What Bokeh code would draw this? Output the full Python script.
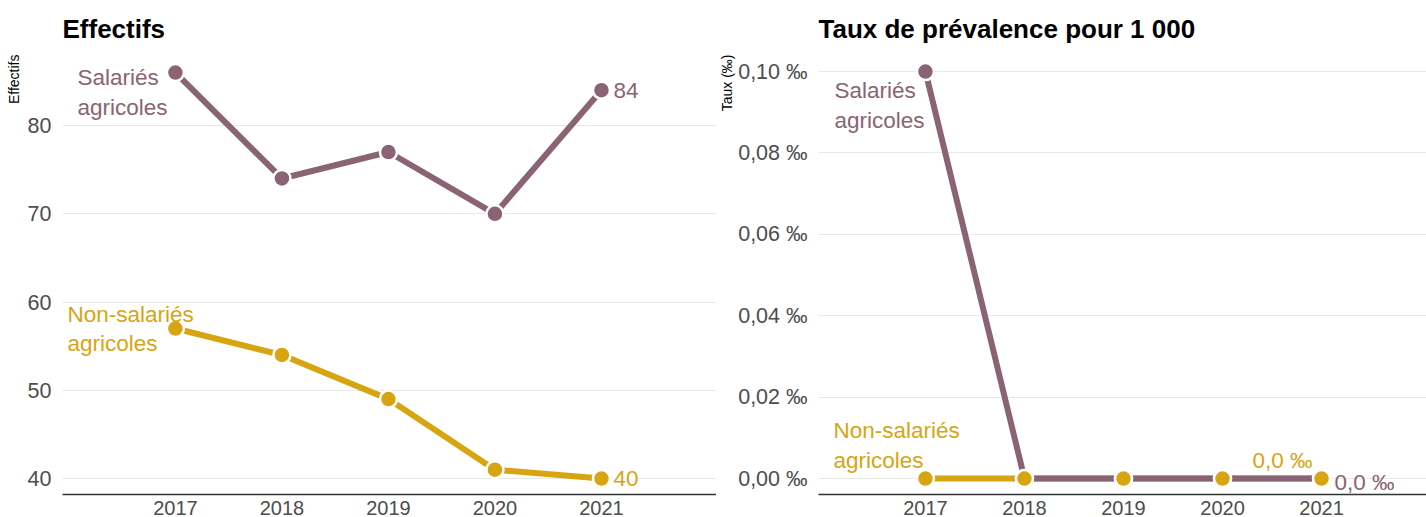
from bokeh.plotting import figure
from bokeh.layouts import row
from bokeh.models import Range1d, FixedTicker, Label, ColumnDataSource, Title
from bokeh.embed import file_html
from bokeh.resources import INLINE

# ---- data ----
years = [2017, 2018, 2019, 2020, 2021]
eff_salaries = [86, 74, 77, 70, 84]
eff_non_salaries = [57, 54, 49, 41, 40]
taux_salaries = [0.10, 0.0, 0.0, 0.0, 0.0]
taux_non_salaries = [0.0, 0.0, 0.0, 0.0, 0.0]

eff_ticks = [40, 50, 60, 70, 80]
eff_tick_labels = ["40", "50", "60", "70", "80"]
taux_ticks = [0.0, 0.02, 0.04, 0.06, 0.08, 0.10]
taux_tick_labels = ["0,00 ‰", "0,02 ‰", "0,04 ‰", "0,06 ‰", "0,08 ‰", "0,10 ‰"]
year_labels = ["2017", "2018", "2019", "2020", "2021"]

series_names = ["Salariés\nagricoles", "Non-salariés\nagricoles"]

PURPLE = "#8a6474"
GOLD = "#d8a512"
FONT = "Liberation Sans"
TICK_COLOR = "#4d4d4d"


def base_fig(width, xr, yr, border_left, border_right, yticks, ylabels, title, ylabel, ylab_standoff):
    p = figure(width=width, height=517, output_backend="svg", toolbar_location=None,
               x_range=Range1d(*xr), y_range=Range1d(*yr),
               min_border_left=border_left, min_border_right=border_right,
               min_border_top=54, min_border_bottom=20)
    p.title.text = title
    p.title.align = "left"
    p.title.text_font = FONT
    p.title.text_font_size = "26px"
    p.title.text_font_style = "bold"
    p.title.text_color = "black"
    p.title.standoff = 22

    yt = Title(text=ylabel, align="right", text_font=FONT, text_font_size="14px",
               text_font_style="normal", text_color="black", standoff=ylab_standoff)
    p.add_layout(yt, "left")

    p.outline_line_color = None
    p.background_fill_color = "white"
    p.border_fill_color = "white"
    p.xgrid.grid_line_color = None
    p.ygrid.ticker = FixedTicker(ticks=yticks)
    p.ygrid.grid_line_color = "#e8e8e8"
    p.ygrid.grid_line_width = 1

    p.xaxis.ticker = FixedTicker(ticks=years)
    p.xaxis.major_label_overrides = {y: l for y, l in zip(years, year_labels)}
    p.xaxis.axis_line_color = "#333333"
    p.xaxis.axis_line_width = 1.5
    p.xaxis.major_tick_line_color = None
    p.xaxis.minor_tick_line_color = None
    p.xaxis.major_label_standoff = 0
    p.xaxis.major_label_text_font_size = "20px"

    p.yaxis.ticker = FixedTicker(ticks=yticks)
    p.yaxis.major_label_overrides = {t: l for t, l in zip(yticks, ylabels)}
    p.yaxis.axis_line_color = None
    p.yaxis.major_tick_line_color = None
    p.yaxis.minor_tick_line_color = None
    p.yaxis.major_label_standoff = 5
    p.yaxis.major_label_text_font_size = "21.5px"

    for ax in (p.xaxis, p.yaxis):
        ax.major_label_text_font = FONT
        ax.major_label_text_color = TICK_COLOR
    return p


def draw_series(p, sal, non):
    src_s = ColumnDataSource(dict(x=years, y=sal))
    src_n = ColumnDataSource(dict(x=years, y=non))
    p.line("x", "y", source=src_n, line_color=GOLD, line_width=6)
    p.line("x", "y", source=src_s, line_color=PURPLE, line_width=6)
    p.scatter("x", "y", source=src_s, size=17, fill_color=PURPLE,
              line_color="white", line_width=2.5)
    p.scatter("x", "y", source=src_n, size=17, fill_color=GOLD,
              line_color="white", line_width=2.5)


def add_label(p, x, y, text, color, dx, dy, size="22.5px", align="left", bg=None):
    p.add_layout(Label(x=x, y=y, text=text, x_offset=dx, y_offset=dy,
                       text_font=FONT, text_font_size=size, text_color=color,
                       text_align=align, text_baseline="middle",
                       background_fill_color=bg))


def add_multiline(p, x, y, text, color, dx, dy_first, spacing=30):
    for i, line in enumerate(text.split("\n")):
        add_label(p, x, y, line, color, dx, dy_first - i * spacing)


# ---- left panel: Effectifs ----
p1 = base_fig(716, (2015.94, 2022.08), (38.19, 88.05), 62, 0, eff_ticks, eff_tick_labels,
              "Effectifs", "Effectifs", 5)
draw_series(p1, eff_salaries, eff_non_salaries)
add_multiline(p1, years[0], eff_salaries[0], series_names[0], PURPLE, -98, -5)
add_multiline(p1, years[0], eff_non_salaries[0], series_names[1], GOLD, -108, 14, spacing=29)
add_label(p1, years[-1], eff_salaries[-1], str(eff_salaries[-1]), PURPLE, 12, 0, bg="white")
add_label(p1, years[-1], eff_non_salaries[-1], str(eff_non_salaries[-1]), GOLD, 12, 0, bg="white")

# ---- right panel: Taux ----
p2 = base_fig(710, (2015.92, 2022.06), (-0.00393, 0.10418), 97, 0, taux_ticks, taux_tick_labels,
              "Taux de prévalence pour 1 000", "Taux (‰)", 1)
draw_series(p2, taux_salaries, taux_non_salaries)
add_multiline(p2, years[0], taux_salaries[0], series_names[0], PURPLE, -91, -19)
add_multiline(p2, years[0], taux_non_salaries[0], series_names[1], GOLD, -92, 48)
add_label(p2, years[-1], taux_non_salaries[-1], "0,0 ‰", GOLD, -9, 18, align="right")
add_label(p2, years[-1], taux_salaries[-1], "0,0 ‰", PURPLE, 13, -4)

layout = row(p1, p2)
open("out.html", "w").write(file_html(layout, INLINE))
